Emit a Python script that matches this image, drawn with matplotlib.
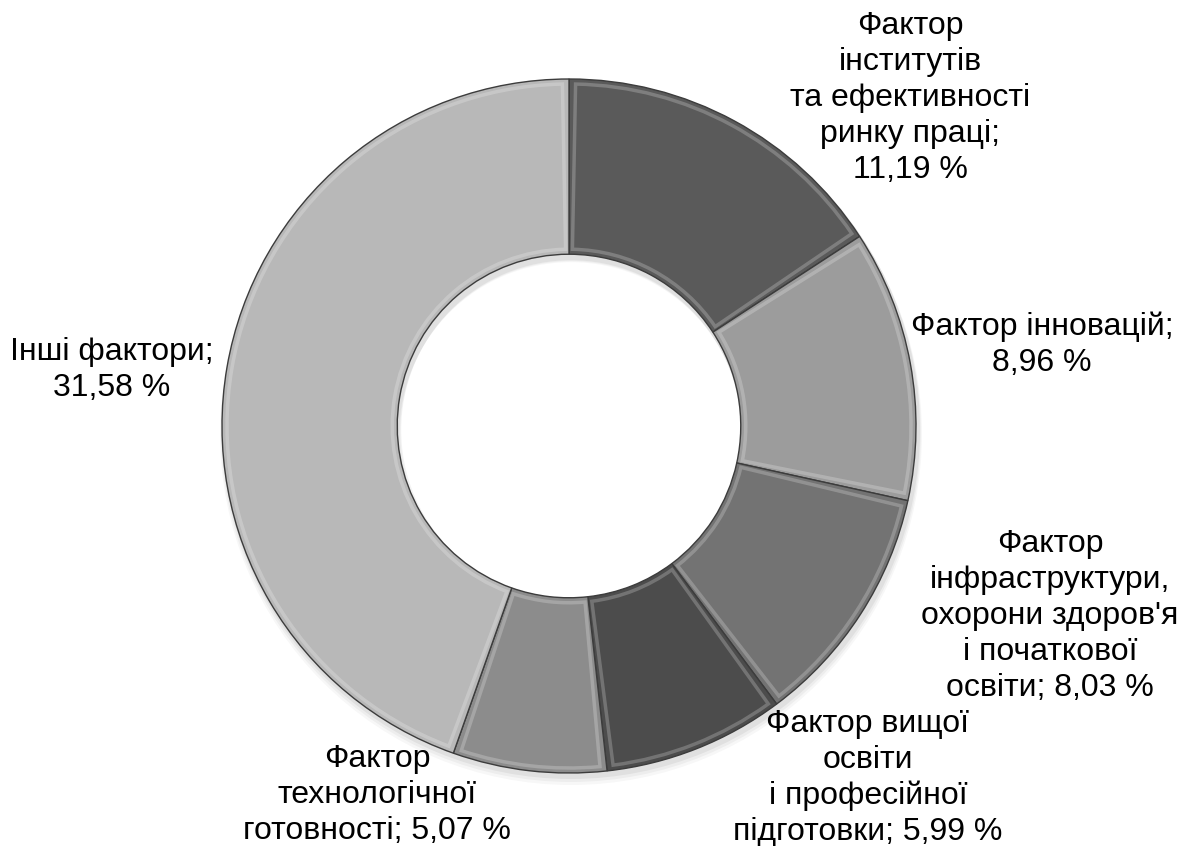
import matplotlib
matplotlib.use("Agg")
import matplotlib.pyplot as plt
from matplotlib.patches import Wedge
import numpy as np

labels = [
    "Фактор\nінститутів\nта ефективності\nринку праці;\n11,19 %",
    "Фактор інновацій;\n8,96 %",
    "Фактор\nінфраструктури,\nохорони здоров'я\nі початкової\nосвіти; 8,03 %",
    "Фактор вищої\nосвіти\nі професійної\nпідготовки; 5,99 %",
    "Фактор\nтехнологічної\nготовності; 5,07 %",
    "Інші фактори;\n31,58 %",
]
values = [11.19, 8.96, 8.03, 5.99, 5.07, 31.58]
colors = ["#5a5a5a", "#9c9c9c", "#737373", "#4c4c4c", "#8c8c8c", "#b8b8b8"]

# label anchor positions (pixel coords from top-left)
label_pos = [(910, 98), (1042, 345), (1050, 616), (868, 778), (377, 795), (112, 370)]

W, H = 1196, 846
fig = plt.figure(figsize=(W / 100, H / 100), dpi=100)
ax = fig.add_axes([0, 0, 1, 1])

cx, cy, R = 569, H - 426, 347
ring_w = R * 0.505
# soft shadow
for i, a in enumerate([0.05, 0.04, 0.03]):
    ax.pie([1], colors=["#000000"], center=(cx + 2, cy - 4 - i * 2), radius=R + 2 + i,
           frame=True, wedgeprops=dict(width=ring_w + 4, alpha=a, linewidth=0))
wedges, _ = ax.pie(values, colors=colors, startangle=90, counterclock=False,
                   center=(cx, cy), radius=R, frame=True,
                   wedgeprops=dict(width=ring_w, edgecolor="#3c3c3c", linewidth=1.0))

# bevel highlight inside each segment
inset = 5
for w in wedges:
    t1, t2 = w.theta1, w.theta2
    r_mid = R - ring_w / 2
    dt = np.degrees(inset / r_mid)
    hl = Wedge((cx, cy), R - inset, t1 + dt, t2 - dt, width=ring_w - 2 * inset,
               facecolor="none", edgecolor="white", alpha=0.22, linewidth=2.5)
    ax.add_patch(hl)

ax.set_xlim(0, W)
ax.set_ylim(0, H)
ax.set_aspect("equal")
ax.axis("off")

for lab, (x, y) in zip(labels, label_pos):
    ax.text(x, H - y, lab, ha="center", va="center", multialignment="center",
            fontsize=23, family="Liberation Sans", color="#000000", linespacing=1.26)

fig.savefig("out.png", dpi=100)
